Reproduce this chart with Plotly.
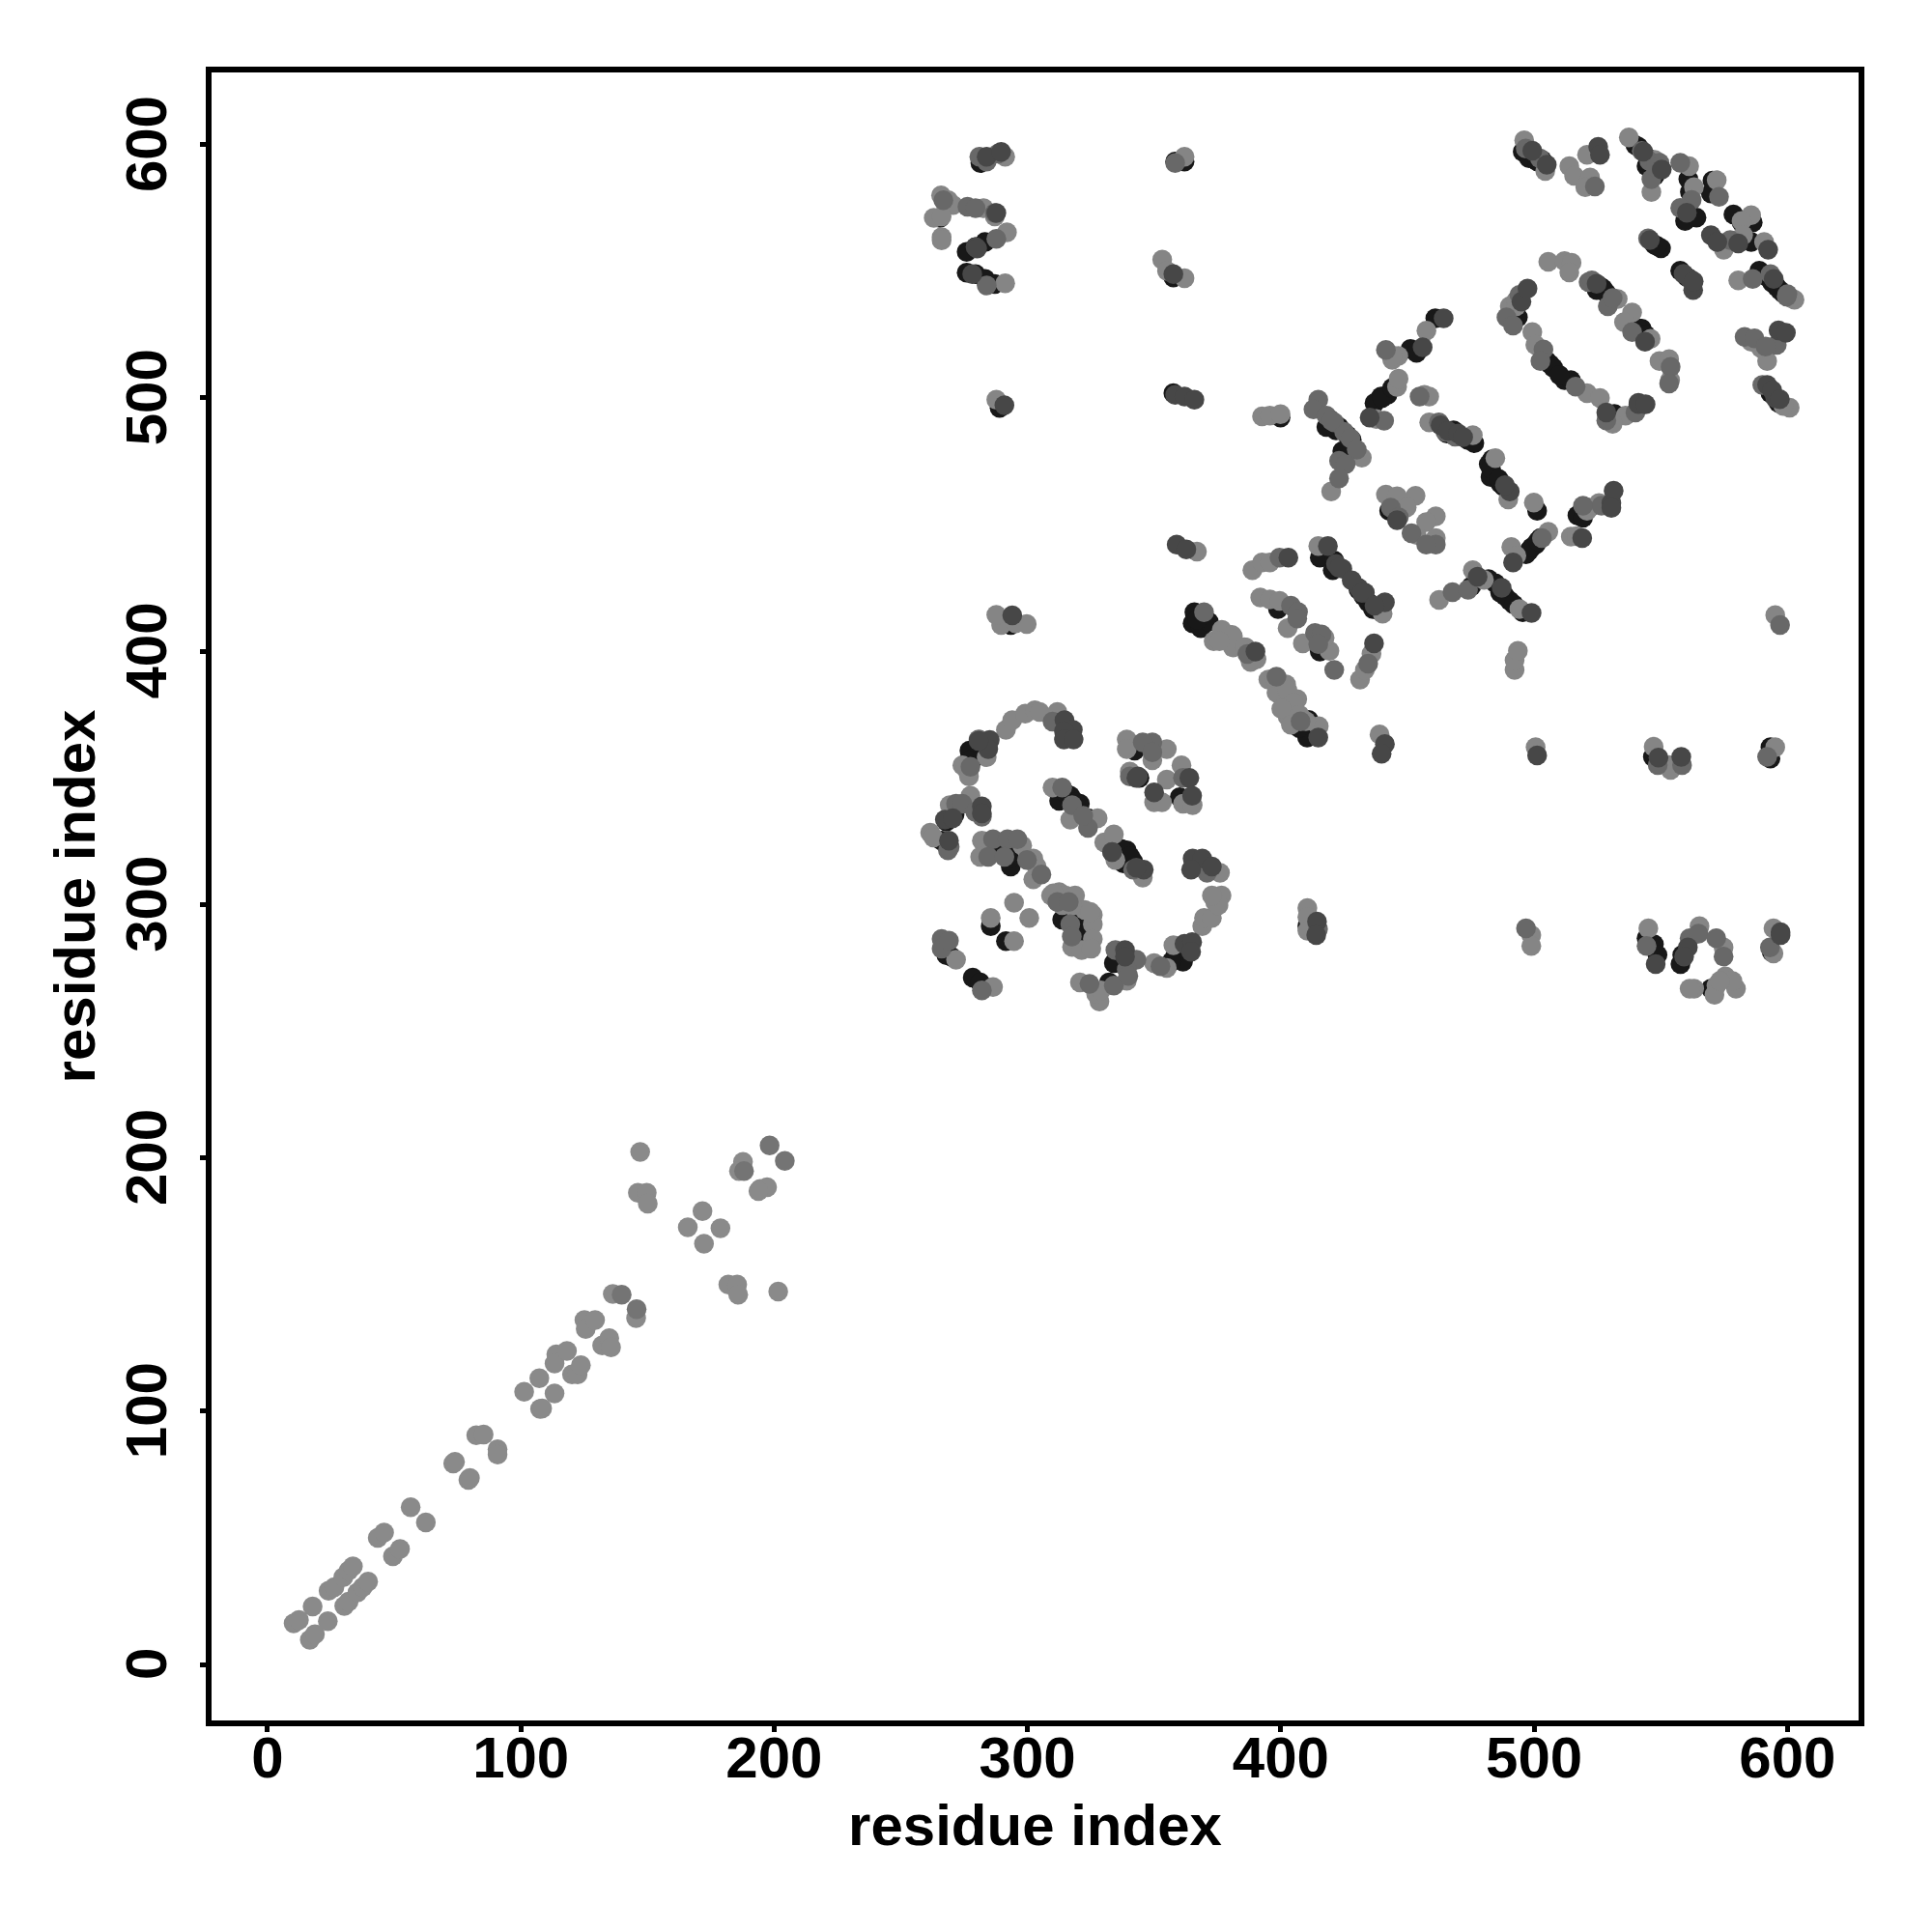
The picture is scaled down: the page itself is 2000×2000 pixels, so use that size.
import plotly.graph_objects as go

tick_values = [0, 100, 200, 300, 400, 500, 600]
axis_label = "residue index"

# lower diagonal block
base_x = [10.3,12.4,17.8,23.8,16.7,18.7,24.1,26.4,29.9,32,33.7,30.3,32,35.5,37.6,39.7,43.5,46,49.5,52.3,56.5,62.5,73.3,74,79.3,79.9,82.4,85.3,90.8,90.8,101.3,107.3,113.3,107.6,108.4,114,113.3,118.2,125.1,125.6,129.3,120.2,122.4,123.7,132.1,134.9,135.6,136.3,145.5,147.1,146.2,149.7,150.1,171.7,165.9,178.8,172.3,181.9,185.4,185.8,201.6,187.7,186.1,194.5,197.2,193.8]
base_y = [16.2,17.6,22.9,17.1,9.7,11.9,29.1,30.5,34.4,37,38.7,23.1,24.8,28.4,30.5,32.7,50,52.1,42.7,45.6,62.1,56.1,79.3,80,72.9,73.6,90.5,90.8,85,82.9,107.7,113,107,100.9,101.1,122.4,118.8,123.8,136,132.4,136,114.5,114.5,118.1,126,128.8,125.2,146.3,136.7,202.3,186.2,186.2,181.9,179,172.6,172.2,166.1,150,150,146,147.2,198.4,194.8,187.7,188.4,186.9]
soft_x = [139.8,145.7,188.1,198.2,204.2]
soft_y = [146,140.3,194.8,204.9,198.8]

# upper block, by shade of the marker
light_x = [291.5,294,299.1,302.9,304.8,311.8,274.3,275.6,276.9,283.9,261.6,262.9,277.5,269.3,282,281.3,297.9,302.3,303.6,302.3,294.7,300.7,285.5,294.7,309.3,312.5,315,318.8,313.7,322.6,325.8,325.8,325.8,317.6,321.4,325.2,271.8,286.4,320.7,328.4,327.1,339.2,329,350,355,357.6,369,369.7,372.8,374.1,376.6,375.4,376,372.8,309.9,327.7,316.9,330.3,334.1,334.7,345.5,339.2,339.2,355,349.3,340.4,350,353.1,355,360.8,361.4,365.2,310.2,317.5,324.8,
 392.6,395.7,399.9,432,419.9,445.9,437.7,456.7,458.6,458.6,475.8,484.7,489.8,499.9,491,493,505.6,514.5,520.9,441.5,445.9,453.2,449.7,461.2,457.4,461.2,453.6,366.9,388.8,392.6,395.7,414.8,440.2,462.5,475.8,480.2,494.2,373.5,376.7,381.1,381.1,386.2,388.1,391.9,395.7,399.5,402.7,408.7,419.2,417.3,431.3,433.2,435.8,395.1,402.1,398.3,406.5,402.7,415,439,500.6,492.3,492.3,493.6,397.7,402.6,405,400.2,407.4,409.9,404,380.7,375.8,385.6,390.4,516.8,525.6,
 496.1,504.4,513.9,520.9,515.8,522.1,520.2,537.4,547.6,546.3,561.2,563.1,572.1,585.7,581.9,574.9,582.5,590.8,580.6,601.6,602.8,585.7,592,589.5,600.9,598.4,499.3,500.5,490.4,492.9,520.9,526,536.1,531,505.6,512,514.8,513.9,533,538.7,535.5,546,549.5,553.3,553.7,446.5,446.4,444,457.5,444,
 291.2,362,265.9,268.7,270.6,263,266.1,266.1,266.1,282.7,287.1,291.9,291.2,353.2,355.1,362,287.7,289.6,295.3,299.7,287.7,
 410.5,410.5,410.5,498.9,498.9,545.1,565.3,574.8,575.5,572,579.7,571.2,578.3,563.2,561.4,573.4,594.5,594.5,547.2,553.3,553.9,595.2,595.2,493]
light_y = [369,372.8,375.4,376.7,376,376,355,353.8,350.6,358.2,328.4,326.5,343,339.2,325.2,318.8,323.3,318.2,315,310,300.7,294.7,294.7,285.6,303.6,304.9,303.6,303.6,299.8,297.9,296,292.2,286.4,283.3,282,282.6,278.2,267.4,269.3,261.7,264.8,269.9,266.1,276.9,275,283.9,291.5,294.7,294.7,301,303.6,299.8,312.5,303.6,346.2,334.1,333.5,324.6,327.7,317.6,310.6,365.2,361.4,361.4,357,352.5,340.4,340.4,349.3,355,339.8,339.2,304.4,299.5,297.1,
 492.7,493,493.6,476.4,463.1,504.4,491.7,501.2,500.6,490.4,485.3,476.2,459.9,458.7,441.2,437.7,447.2,445.3,455.5,461.8,461.2,461.4,456.8,453.3,451,444.7,445.9,439.3,432,435.1,435.1,441.5,414.8,420.3,432,428.2,416.7,404,408.5,405.9,401.5,401.5,395.8,421.2,420.5,419.9,409.1,403.1,400.2,405.3,388.8,392.6,399,388.8,386.9,383.7,381.1,374.2,370.4,367.2,362.1,392.6,396.4,400.2,389.5,384.6,379.7,377.3,374.9,372.4,371,406.5,404,401.6,396.8,445.4,458.5,
 601.7,589.6,591.5,596,587.7,587,583.2,602.9,594,581.3,591.5,583.2,586,572.2,569.9,558.5,564.2,561.6,546.4,539.4,538.8,522.2,514.6,519.7,496.2,496.8,526,521,536.2,536.2,501.9,500,493,489.8,553.8,554,553.4,549.6,539.1,533.7,529.9,523.3,514.6,515.3,507,507.6,516.6,515,526.6,516.8,
 595.2,595.2,580,578.1,576.2,571.1,571.7,563.5,562.2,574.9,571.7,565.4,545.3,554.6,550.1,547.3,499.3,410.4,411,410.7,414.4,
 298.6,295.1,289.7,287.9,283.7,290.6,291.5,283.1,271.6,268,266.8,264.4,269.8,266.8,266.8,269.8,290.6,280.7,362.3,355.1,353.2,414.3,362.1,538.5]

mid_x = [309.9,277.5,280.7,271.8,274.3,269.3,268.6,279.4,282,286.4,284.5,292.1,296,299.8,305.5,290.9,311.8,316.3,316.9,266.1,266.1,269,282,324.5,334.1,343,339.2,334.7,339.8,352.5,370.9,313.7,323.9,317.6,333.4,341.7,349.3,345.5,349.3,340.4,361.4,317.5,322,
 414.8,412.9,418,421.1,425,427.5,430,423,425.6,423,440.8,454.8,462.4,468.8,465,503.1,443.4,446.6,451.6,461.2,457.4,399.5,369.7,467.8,473.9,386.8,404,406.8,406.5,413.5,416.1,414.8,421.1,434.5,398.3,407.8,526.6,519.3,597.1,420,
 496.7,524,546.3,549.5,557.7,562.2,573,557.7,577.4,586.3,593.3,599.7,583.1,587,595.8,591.4,590.1,494.2,489.1,491.7,503.7,502.5,516.4,540,528.5,521.5,529.1,522.8,538.7,553.9,553.3,441.5,502.3,542.5,545.5,548,600,545,531,
 281,288.4,283.9,358.3,266.8,276.3,279.5,287.1,287.7,283.9,
 414.7,496.8,544.4,561.4,564.9,571.9,574.8,593.1,548.8,558.4,592]
mid_y = [372.2,354.4,365.2,339.8,339.8,322.7,321.4,336.6,334.7,325.8,318.8,325.8,325.8,317.6,311.9,318.8,301,301,292.2,286.4,282.6,285.8,266.1,268.7,268,278.2,274.4,282,271.8,275.6,312.5,346.2,330.3,339.2,320.7,313.8,364,364,360.1,350.6,350,287.4,335,
 499.3,495.5,493,490.4,486.6,484.1,479.6,475.2,473.9,468.2,491,500.6,490.4,484.7,486.6,444.7,456.7,452.9,446.6,442.1,442.1,437,415.4,423.3,424.3,398.9,418,415.5,412.9,407.2,406.6,402.8,392.6,395.1,390,372.3,457.5,457.5,410.4,491,
 598.5,583.5,586.4,592.8,592.8,578.2,579.4,575,562.3,547,548.9,540,524.1,523.5,521,520.3,505.1,540.7,531.8,528.6,519.1,514.6,504.5,494.3,491.1,545.7,536.2,546.4,526,512.3,505.7,519,594.6,597.5,593.5,591,541,563,539.5,
 595.2,596.5,593.3,592.7,578.1,575.5,574.9,573,562.8,544.4,
 290.3,290.6,283.7,286.7,288.5,286.7,279.5,283.1,355.1,355.1,358.3]

dark_x = [314.6,317.9,314.4,314.4,318.2,285.1,284.5,280.7,282,269,267.4,270.5,282,345.9,333.4,338.5,362,365,364.6,365.2,369,372.8,364.6,338.5,343,363.9,365,350,343.6,343,
 358.3,362,365.9,435.1,463.1,490.4,488.5,491.7,519,445.9,358.9,362.7,403,418.6,424.3,421.8,430.7,433.2,441.1,487.2,499,477.7,390,541.2,530.5,531.4,530.5,423,428,432,437,466,470,472,495,
 505,525.3,526,550.4,543.1,560.3,569.8,572.3,580.6,592.4,545.7,561.5,562.8,594.6,543.8,596.5,599.4,592,595.2,497.4,528.5,541.2,544,524.7,436.8,414.8,441.1,439.8,501.2,464.3,456,499.3,594,597,559,563,
 283.9,289.6,287.7,279.5,280.1,278.2,357.6,290.9,294,
 414.3,414,548,560.7,559.2,597.3,597.3,549.1,558.1]
dark_y = [372.8,369,368.4,365.2,365.2,365,361.4,364.6,338.8,325.2,333.5,334.1,336,313.8,320.7,282,284.5,285.2,281.4,318.2,318.2,315,313.8,279.5,350,350,343,344.3,350.6,314.5,
 501.2,500.6,499.3,492.3,489.2,463.1,465.6,435.1,444.7,451.7,442.1,440.2,437,441.5,432.6,434.5,425,423.1,419.3,425,415.1,429.4,399.9,497.6,458.5,463.4,456.6,433,428,423,418,487,486,484.5,538,
 592.1,599.1,596,590.2,597.2,573.1,564.2,561.6,561,558.5,562.3,547,542.6,547,522.2,526.7,525.7,505.1,500,543.2,494.3,498.1,497.5,545.1,403.1,365.9,363.4,359.5,358.9,531.4,520,597.6,503,499.5,549,546,
 595.2,597.1,573,559.6,559,548.9,548.9,497.1,414.2,
 293.3,287.9,276.5,283.1,279.5,289.1,287.9,358,358.3]

black_x = [277.1,279.4,276.9,268,271.2,266.1,285.5,290.9,293.4,292.8,285.5,291.5,313.7,317.6,320.7,320.7,268,269.9,278.4,281.3,334.1,332.2,358.2,361.4,356.9,316.9,320.7,312.5,318.8,323.9,339.2,341.7,337.9,342.3,360.1,344.2,322.4,315,319,337,340.5,
 357.6,399.9,419.2,418,421.8,426.2,424.3,439.6,437,442.1,465.6,468.2,473.9,476.4,482.1,482.8,486.6,483.4,501.2,498,500.6,502.5,496.8,517.1,442.8,415.4,420.5,421.1,430.7,434.5,436.4,432.6,475.2,484.7,486.6,490.4,488.5,495.5,365.9,365.2,368.4,371.6,398.9,415.4,411,410.4,407.2,519.3,521.7,423,428,439,482,492,483,486,488,499,501.5,367,
 495.5,498,501.2,503.1,541.2,545,540,544.4,547.6,560.9,561.5,570.4,569.8,559.6,564.1,578.7,581.9,586.3,585.7,547.6,550.1,557.7,560.3,588.9,592,595.8,598.4,593.3,596.5,493.6,505,506.3,512,514.5,531.7,527.2,524.7,539.3,542.5,440,444,451.2,453.6,461,590.5,594,597,548.5,526,528.5,507.5,510,541,544,492,
 281.4,362,358.3,265.5,276,279.5,283.3,276,279.5,283.3,287.1,357.6,289,293.4,
 410.5,544.4,547.3,548.7,557.8,558.5,569.8,593.8,546.9,593.3,593.3]
black_y = [360.8,358.2,357,332.8,335.4,325.2,322,322,315,318.2,291.5,285.6,294,294,292.2,286.4,280,279.5,271.2,269.3,276.9,269.3,279.5,277.5,277.5,343,339.8,341,335.4,334.1,321.4,317,316.3,360.8,342.4,350,292.2,344,340.5,322,319,
 501.9,492.3,491.7,488.5,487.2,485.3,479,500.6,498,501.2,486,487.2,483.4,482.2,473.9,468.8,466.3,475.8,455.5,439.6,442.1,444.7,438.3,453.6,455.5,437,432,435.8,424.3,419.3,416.7,421.8,425.6,426.9,423.1,419.9,421.8,415.4,415.4,411,409.1,411.6,416.7,399.9,372.9,365.9,369.7,452.7,456.6,488.5,483.5,416,428.5,418.5,472,468,465,441,443.5,412.5,
 597.2,594.7,593.4,594,599.1,594.7,599.8,591.5,587.7,586.4,581.3,585.8,580.7,569.9,571.2,572.4,569.3,569.3,561.6,560.4,559.1,550.2,547.7,550.2,547.7,543.8,541.3,501.9,498.1,531.8,514.6,513.3,507,507,493.7,543.2,542.6,528,527.3,500,504,519.3,517.8,531.4,549,545.5,542.5,560,544,541.5,512,509,527.5,525,533.5,
 592.7,593.3,593.3,571.1,557.7,559.6,561.6,549.5,548.9,547,545,547.6,496.1,410.4,
 291.5,286.7,284.3,280.1,276.5,280.1,266.8,281.3,358.3,362.1,357.6]

series = [
    ("contacts 4", black_x, black_y, "#181818"),
    ("contacts 0", base_x, base_y, "#8a8a8a"),
    ("contacts 1", soft_x, soft_y, "#747474"),
    ("contacts 2", light_x, light_y, "#858585"),
    ("contacts 3", mid_x, mid_y, "#686868"),
    ("contacts 5", dark_x, dark_y, "#474747"),
]

fig = go.Figure()
for name, xs, ys, colour in series:
    fig.add_trace(go.Scatter(x=xs, y=ys, mode="markers", name=name,
                             marker=dict(size=20.5, color=colour, line=dict(width=0))))

font = dict(family="Liberation Sans", size=60, color="black", weight="bold")
axis_common = dict(
    tickmode="array", tickvals=tick_values,
    showgrid=False, zeroline=False, showline=True, mirror=True,
    linewidth=6, linecolor="black", ticks="outside", ticklen=6, tickwidth=5,
    tickcolor="black", tickfont=font, automargin=False,
)
fig.update_layout(
    width=2000, height=2000, showlegend=False,
    paper_bgcolor="white", plot_bgcolor="white",
    margin=dict(l=219, r=75.5, t=74.5, b=219),
    xaxis=dict(range=[-22.1, 628.1], ticklabelstandoff=-25,
               ticktext=[str(v) for v in tick_values],
               title=dict(text=axis_label, font=font, standoff=18), **axis_common),
    yaxis=dict(range=[-22.1, 628.5], tickangle=-90, ticklabelstandoff=11,
               ticktext=[f"{v}\u00a0" for v in tick_values],
               title=dict(text=axis_label, font=font, standoff=2), **axis_common),
)
fig.write_html("out.html", config=dict(displayModeBar=False),
               post_script="document.body.style.margin='0';")
